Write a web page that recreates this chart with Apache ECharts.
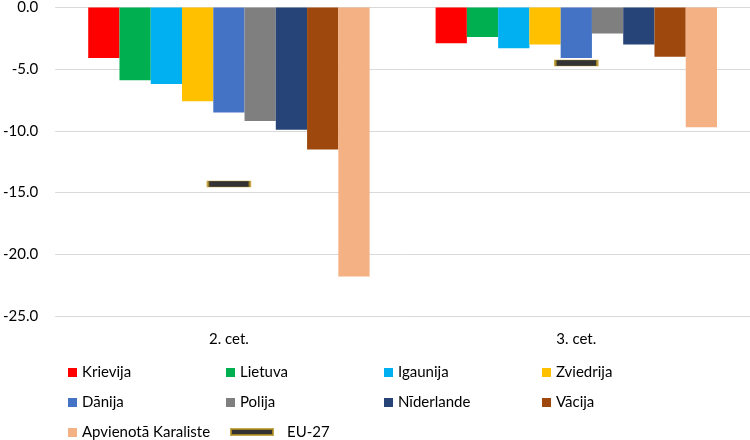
<!DOCTYPE html>
<html><head><meta charset="utf-8">
<script src="https://cdn.jsdelivr.net/npm/echarts@6/dist/echarts.min.js"></script>
<style>html,body{margin:0;padding:0;background:#fff}#c{width:750px;height:440px}</style>
</head><body><div id="c"></div>
<script>
const categories = ['2. cet.', '3. cet.'];
const countries = ['Krievija','Lietuva','Igaunija','Zviedrija','Dānija','Polija','Nīderlande','Vācija','Apvienotā Karaliste'];
const krievija = [-4.1, -2.9];
const lietuva = [-5.9, -2.4];
const igaunija = [-6.2, -3.3];
const zviedrija = [-7.6, -3.0];
const danija = [-8.5, -4.1];
const polija = [-9.2, -2.1];
const niderlande = [-9.9, -3.0];
const vacija = [-11.5, -4.0];
const apvienota = [-21.8, -9.7];
const eu27 = [-14.3, -4.5];
const yTicks = [-25, -20, -15, -10, -5, 0];

const colors = ['#FF0000','#00B050','#00B0F0','#FFC000','#4472C4','#7F7F7F','#264478','#9E480E','#F4B183'];
const values = [krievija, lietuva, igaunija, zviedrija, danija, polija, niderlande, vacija, apvienota];
const FONT = 'Lato';

const series = countries.map((n, i) => ({
  name: n, type: 'bar', data: values[i],
  barGap: '0%', barCategoryGap: '19%',
  itemStyle: { color: colors[i] }
}));
series.push({
  name: 'EU-27', type: 'scatter', data: eu27, z: 5,
  symbol: 'rect', symbolSize: [42, 6],
  itemStyle: { color: '#000', borderColor: '#B8931F', borderWidth: 1 }
});

const colX = [68, 226, 384, 542];
const rowTop = [365, 395, 424.5];
const cols = [
  ['Krievija','Dānija','Apvienotā Karaliste'],
  ['Lietuva','Polija'],
  ['Igaunija','Nīderlande'],
  ['Zviedrija','Vācija']
];
const legends = cols.map((names, c) => ({
  orient: 'vertical', left: colX[c], top: rowTop[0], padding: 0,
  itemGap: 15, itemWidth: 9, itemHeight: 9, icon: 'rect',
  data: names,
  textStyle: { fontFamily: FONT, fontSize: 15, color: '#000' }
}));
legends.push({
  left: 230, top: rowTop[2], padding: 0, itemWidth: 42, itemHeight: 6,
  data: [{ name: 'EU-27', icon: 'rect' }],
  textStyle: { fontFamily: FONT, fontSize: 15, color: '#000', padding: [0, 0, 0, 9] }
});

const chart = echarts.init(document.getElementById('c'), null, { renderer: 'canvas' });
chart.setOption({
  animation: false,
  grid: { left: 52, right: 0, top: 6, bottom: 124, containLabel: false },
  legend: legends,
  xAxis: {
    type: 'category', data: categories, position: 'bottom',
    axisLine: { show: false }, axisTick: { show: false },
    axisLabel: { fontFamily: FONT, fontSize: 15, color: '#000', margin: 16 }
  },
  yAxis: {
    type: 'value', min: yTicks[0], max: yTicks[yTicks.length - 1], interval: 5,
    axisLine: { show: false }, axisTick: { show: false },
    splitLine: { lineStyle: { color: '#D9D9D9', width: 1 } },
    axisLabel: { fontFamily: FONT, fontSize: 15, color: '#000', margin: 17,
      formatter: v => v.toFixed(1) }
  },
  series: series
});
</script></body></html>
